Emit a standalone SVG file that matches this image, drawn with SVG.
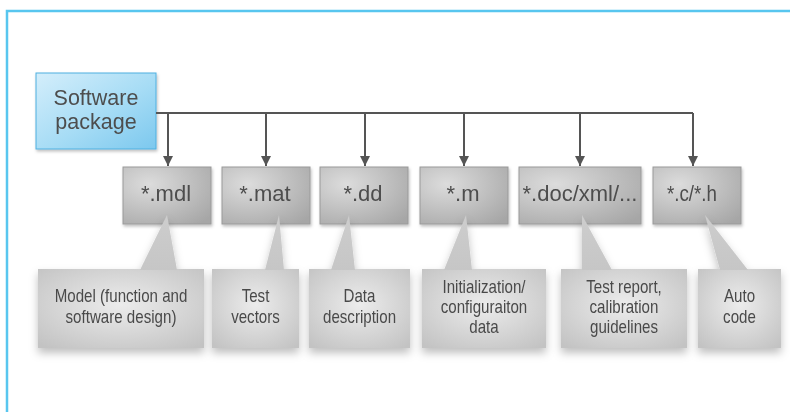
<svg xmlns="http://www.w3.org/2000/svg" width="790" height="412" viewBox="0 0 790 412">
<style>
.frame{fill:none;stroke:#58c6ef;stroke-width:2.5}
.conn{fill:none;stroke:#555;stroke-width:2}
.ft{font-family:"Liberation Sans",Arial,sans-serif;font-size:22px;fill:#4d4d4d;text-anchor:middle}
.ct{font-family:"Liberation Sans",Arial,sans-serif;font-size:18px;fill:#4a4a4a;text-anchor:middle}
.st{font-family:"Liberation Sans",Arial,sans-serif;font-size:21.5px;fill:#4d4d4d;text-anchor:middle}
.fbox{fill:url(#fileGrad);stroke:#9a9a9a;stroke-width:1}
.cbox{fill:url(#callGrad)}
.tail{fill:url(#tailGrad)}
</style>
<defs>
<radialGradient id="fileGrad" cx="0.3" cy="0.3" r="0.9">
<stop offset="0" stop-color="#dcdcdc"/>
<stop offset="1" stop-color="#a6a6a6"/>
</radialGradient>
<radialGradient id="callGrad" cx="0.5" cy="0.45" r="0.7">
<stop offset="0" stop-color="#ececec"/>
<stop offset="1" stop-color="#c3c3c3"/>
</radialGradient>
<linearGradient id="tailGrad" x1="0" y1="0" x2="0" y2="1">
<stop offset="0" stop-color="#cdcdcd"/>
<stop offset="1" stop-color="#c6c6c6"/>
</linearGradient>
<linearGradient id="swGrad" x1="0" y1="0" x2="1" y2="1">
<stop offset="0" stop-color="#d4eefb"/>
<stop offset="0.55" stop-color="#a6dcf5"/>
<stop offset="1" stop-color="#7cc8ee"/>
</linearGradient>
<filter id="shadow" x="-20%" y="-20%" width="140%" height="160%">
<feDropShadow dx="0" dy="5" stdDeviation="4.5" flood-color="#000" flood-opacity="0.25"/>
</filter>
<filter id="shadowS" x="-20%" y="-20%" width="140%" height="150%">
<feDropShadow dx="1" dy="2" stdDeviation="1.5" flood-color="#000" flood-opacity="0.25"/>
</filter>
<marker id="arrow" markerWidth="12" markerHeight="12" refX="10" refY="5" orient="auto" markerUnits="userSpaceOnUse">
<path d="M0,0 L10,5 L0,10 z" fill="#555"/>
</marker>
</defs>

<path class="frame" d="M7,412 V11 H790"/>

<g id="software-package" filter="url(#shadowS)">
<rect x="36" y="73" width="120" height="76" fill="url(#swGrad)" stroke="#4fb0e0" stroke-width="1"/>
<text class="st" x="96" y="105">Software</text>
<text class="st" x="96" y="129">package</text>
</g>

<g id="connectors">
<path class="conn" d="M156,113 H693"/>
<path class="conn" d="M168,113 V166" marker-end="url(#arrow)"/>
<path class="conn" d="M266,113 V166" marker-end="url(#arrow)"/>
<path class="conn" d="M365,113 V166" marker-end="url(#arrow)"/>
<path class="conn" d="M464,113 V166" marker-end="url(#arrow)"/>
<path class="conn" d="M580,113 V166" marker-end="url(#arrow)"/>
<path class="conn" d="M693,113 V166" marker-end="url(#arrow)"/>
</g>

<g id="file-mdl" filter="url(#shadowS)">
<rect class="fbox" x="123" y="167" width="88" height="57"/>
<text class="ft" x="166" y="201">*.mdl</text>
</g>
<g id="file-mat" filter="url(#shadowS)">
<rect class="fbox" x="222" y="167" width="88" height="57"/>
<text class="ft" x="265" y="201">*.mat</text>
</g>
<g id="file-dd" filter="url(#shadowS)">
<rect class="fbox" x="320" y="167" width="88" height="57"/>
<text class="ft" x="363" y="201">*.dd</text>
</g>
<g id="file-m" filter="url(#shadowS)">
<rect class="fbox" x="420" y="167" width="88" height="57"/>
<text class="ft" x="463" y="201">*.m</text>
</g>
<g id="file-doc" filter="url(#shadowS)">
<rect class="fbox" x="519" y="167" width="122" height="57"/>
<text class="ft" x="580" y="201">*.doc/xml/...</text>
</g>
<g id="file-c" filter="url(#shadowS)">
<rect class="fbox" x="653" y="167" width="88" height="57"/>
<text class="ft" x="692" y="201" textLength="50" lengthAdjust="spacingAndGlyphs">*.c/*.h</text>
</g>

<g id="callout-model" filter="url(#shadow)">
<rect class="cbox" x="38" y="269" width="166" height="79"/>
<polygon class="tail" points="167,215 140,270 177,270"/>
<g transform="translate(121 0) scale(0.84 1)">
<text class="ct" x="0" y="302">Model (function and</text>
<text class="ct" x="0" y="323">software design)</text>
</g>
</g>
<g id="callout-test-vectors" filter="url(#shadow)">
<rect class="cbox" x="212" y="269" width="87" height="79"/>
<polygon class="tail" points="279,215 265,270 284,270"/>
<g transform="translate(255.5 0) scale(0.84 1)">
<text class="ct" x="0" y="302">Test</text>
<text class="ct" x="0" y="323">vectors</text>
</g>
</g>
<g id="callout-data" filter="url(#shadow)">
<rect class="cbox" x="309" y="269" width="101" height="79"/>
<polygon class="tail" points="349,215 331,270 355,270"/>
<g transform="translate(359.5 0) scale(0.84 1)">
<text class="ct" x="0" y="302">Data</text>
<text class="ct" x="0" y="323">description</text>
</g>
</g>
<g id="callout-init" filter="url(#shadow)">
<rect class="cbox" x="422" y="269" width="124" height="79"/>
<polygon class="tail" points="466,215 444,270 472,270"/>
<g transform="translate(484 0) scale(0.84 1)">
<text class="ct" x="0" y="293">Initialization/</text>
<text class="ct" x="0" y="313">configuraiton</text>
<text class="ct" x="0" y="333">data</text>
</g>
</g>
<g id="callout-report" filter="url(#shadow)">
<rect class="cbox" x="561" y="269" width="126" height="79"/>
<polygon class="tail" points="582,215 582,270 612,270"/>
<g transform="translate(624 0) scale(0.84 1)">
<text class="ct" x="0" y="293">Test report,</text>
<text class="ct" x="0" y="313">calibration</text>
<text class="ct" x="0" y="333">guidelines</text>
</g>
</g>
<g id="callout-auto" filter="url(#shadow)">
<rect class="cbox" x="698" y="269" width="83" height="79"/>
<polygon class="tail" points="705,215 720,270 748,270"/>
<g transform="translate(739.5 0) scale(0.84 1)">
<text class="ct" x="0" y="302">Auto</text>
<text class="ct" x="0" y="323">code</text>
</g>
</g>
</svg>
